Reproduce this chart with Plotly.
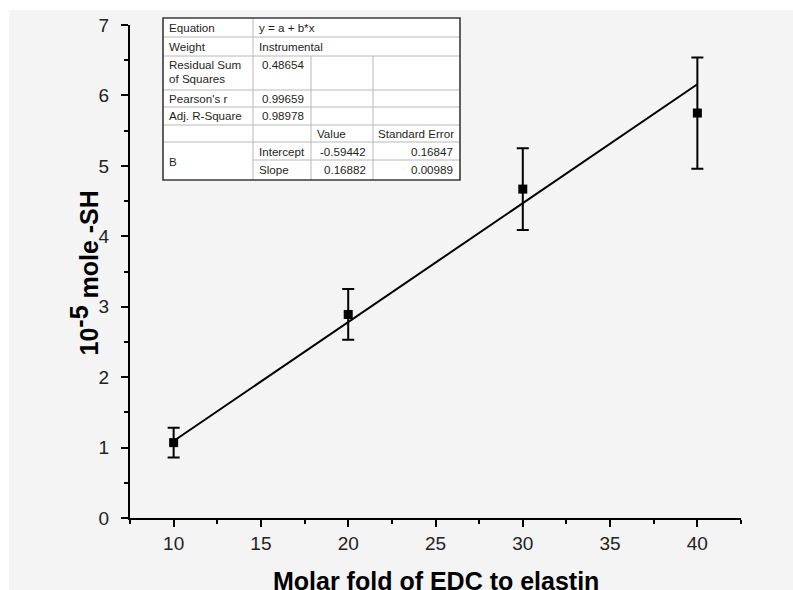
import plotly.graph_objects as go

# Measured thiol content versus EDC:elastin molar ratio
molar_fold = [10, 20, 30, 40]
sh_mole = [1.07, 2.89, 4.67, 5.75]
sh_err = [0.21, 0.36, 0.58, 0.79]

# Weighted linear fit results (y = a + b*x)
fit_intercept = -0.59442
fit_slope = 0.16882
fit_intercept_se = 0.16847
fit_slope_se = 0.00989
residual_ss = 0.48654
pearson_r = 0.99659
adj_r2 = 0.98978

x_ticks = [10, 15, 20, 25, 30, 35, 40]
y_ticks = [0, 1, 2, 3, 4, 5, 6, 7]

fit_x = [molar_fold[0], molar_fold[-1]]
fit_y = [fit_intercept + fit_slope * v for v in fit_x]

FONT = "Liberation Sans, Arial, sans-serif"
BG = "#f4f4f4"

# plot-area pixel frame (used to place the inset table and titles)
L, R, T, B = 130, 741, 25, 518
W, H = R - L, B - T


def px(xp):
    return (xp - L) / W


def py(yp):
    return (B - yp) / H


fig = go.Figure()

fig.add_trace(go.Scatter(
    x=fit_x, y=fit_y, mode="lines",
    line=dict(color="black", width=2),
    hoverinfo="skip", showlegend=False,
))

fig.add_trace(go.Scatter(
    x=molar_fold, y=sh_mole, mode="markers",
    marker=dict(symbol="square", size=9, color="black"),
    error_y=dict(type="data", array=sh_err, visible=True,
                 color="black", thickness=2, width=6),
    showlegend=False,
))

shapes = []
annotations = []

# light grey canvas behind the whole figure
shapes.append(dict(type="rect", xref="paper", yref="paper",
                   x0=px(9), x1=px(800), y0=py(600), y1=py(10),
                   fillcolor=BG, line=dict(width=0), layer="below"))

# ---- fit summary table ----
cx = [163, 253, 311, 373, 460]
ry = [18, 37, 56, 90, 107, 125, 142, 160, 180]
inner = dict(color="#b8b8b8", width=1)

shapes.append(dict(type="rect", xref="paper", yref="paper",
                   x0=px(cx[0]), x1=px(cx[4]), y0=py(ry[8]), y1=py(ry[0]),
                   fillcolor="white", line=dict(width=0), layer="above"))


def hline(y, x0, x1):
    shapes.append(dict(type="line", xref="paper", yref="paper",
                       x0=px(x0), x1=px(x1), y0=py(y), y1=py(y),
                       line=inner, layer="above"))


def vline(x, y0, y1):
    shapes.append(dict(type="line", xref="paper", yref="paper",
                       x0=px(x), x1=px(x), y0=py(y0), y1=py(y1),
                       line=inner, layer="above"))


for r in ry[1:7]:
    hline(r, cx[0], cx[4])
hline(ry[7], cx[1], cx[4])
vline(cx[1], ry[0], ry[8])
vline(cx[2], ry[2], ry[8])
vline(cx[3], ry[2], ry[8])

shapes.append(dict(type="rect", xref="paper", yref="paper",
                   x0=px(cx[0]), x1=px(cx[4]), y0=py(ry[8]), y1=py(ry[0]),
                   line=dict(color="#3a3a3a", width=1.6), layer="above"))


def cell(text, xp, yp, align="left"):
    annotations.append(dict(
        text=text, xref="paper", yref="paper", x=px(xp), y=py(yp),
        xanchor=align, yanchor="middle", showarrow=False, align=align,
        font=dict(family=FONT, size=11.6, color="#1e1e1e"),
    ))


def mid(i):
    return (ry[i] + ry[i + 1]) / 2


pad = 4
cell("Equation", cx[0] + pad, mid(0))
cell("y = a + b*x", cx[1] + pad, mid(0))
cell("Weight", cx[0] + pad, mid(1))
cell("Instrumental", cx[1] + pad, mid(1))
cell("Residual Sum", cx[0] + pad, 64)
cell("of Squares", cx[0] + pad, 78)
cell(f"{residual_ss:.5f}", cx[2] - 5, 64, "right")
cell("Pearson's r", cx[0] + pad, mid(3))
cell(f"{pearson_r:.5f}", cx[2] - 5, mid(3), "right")
cell("Adj. R-Square", cx[0] + pad, mid(4))
cell(f"{adj_r2:.5f}", cx[2] - 5, mid(4), "right")
cell("Value", cx[2] + pad, mid(5))
cell("Standard Error", cx[3] + 3, mid(5))
cell("B", cx[0] + pad, (ry[6] + ry[8]) / 2)
cell("Intercept", cx[1] + pad, mid(6))
cell(f"{fit_intercept:.5f}", cx[3] - 5, mid(6), "right")
cell(f"{fit_intercept_se:.5f}", cx[4] - 5, mid(6), "right")
cell("Slope", cx[1] + pad, mid(7))
cell(f"{fit_slope:.5f}", cx[3] - 5, mid(7), "right")
cell(f"{fit_slope_se:.5f}", cx[4] - 5, mid(7), "right")

# ---- axis titles ----
annotations.append(dict(
    text="Molar fold of EDC to elastin", xref="paper", yref="paper",
    x=0.5, y=py(581), xanchor="center", yanchor="middle", showarrow=False,
    font=dict(family=FONT, size=25, color="black", weight="bold"),
))
annotations.append(dict(
    text='10<sup><span style="font-size:25px">-5</span></sup> mole -SH',
    xref="paper", yref="paper",
    x=px(84), y=py(273.5), xanchor="center", yanchor="middle",
    textangle=-90, showarrow=False,
    font=dict(family=FONT, size=25, color="black", weight="bold"),
))

axis_common = dict(
    showline=True, linecolor="black", linewidth=2,
    ticks="outside", tickcolor="black", tickwidth=2, ticklen=7,
    showgrid=False, zeroline=False, mirror=False,
    tickfont=dict(family=FONT, size=19, color="#222222"),
)

fig.update_layout(
    width=793, height=590,
    margin=dict(l=L, r=793 - R, t=T, b=590 - B, autoexpand=False),
    paper_bgcolor="white", plot_bgcolor=BG,
    shapes=shapes, annotations=annotations,
    xaxis=dict(range=[7.5, 42.5], tickvals=x_ticks,
               minor=dict(ticks="outside", ticklen=4, tickwidth=2,
                          tickcolor="black", dtick=2.5, tick0=7.5),
               ticklabelstandoff=0, **axis_common),
    yaxis=dict(range=[0, 7], tickvals=y_ticks,
               minor=dict(ticks="outside", ticklen=4, tickwidth=2,
                          tickcolor="black", dtick=0.5, tick0=0),
               ticklabelstandoff=8, **axis_common),
)

fig.write_html("out.html")
